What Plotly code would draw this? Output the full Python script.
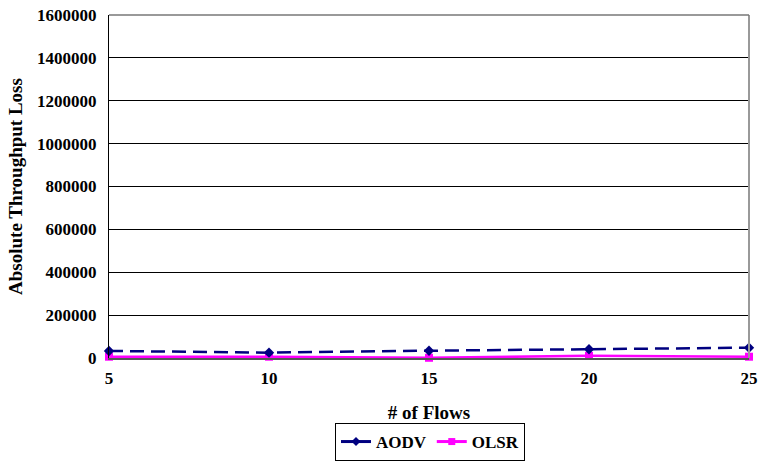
import plotly.graph_objects as go

flows = [5, 10, 15, 20, 25]
aodv = [33000, 25000, 34000, 41000, 48000]
olsr = [6000, 6000, 1000, 10000, 6000]
y_ticks = [0, 200000, 400000, 600000, 800000, 1000000, 1200000, 1400000, 1600000]

NAVY = "#000080"
MAGENTA = "#FF00FF"
FONT = "Liberation Serif"

W, H = 760, 463

fig = go.Figure()
fig.add_trace(go.Scatter(
    x=flows, y=olsr, mode="lines+markers", name="OLSR", showlegend=False, cliponaxis=False,
    line=dict(color=MAGENTA, width=2.5), marker=dict(symbol="square", size=8, color=MAGENTA),
))
fig.add_trace(go.Scatter(
    x=flows, y=aodv, mode="lines+markers", name="AODV", showlegend=False, cliponaxis=False,
    line=dict(color=NAVY, width=2.5, dash="14px,7px"), marker=dict(symbol="diamond", size=8, color=NAVY),
))
# legend entries (solid lines, as in the reference legend)
fig.add_trace(go.Scatter(
    x=[None], y=[None], mode="lines+markers", name="<b>AODV</b>",
    line=dict(color=NAVY, width=3), marker=dict(symbol="diamond", size=7, color=NAVY),
))
fig.add_trace(go.Scatter(
    x=[None], y=[None], mode="lines+markers", name="<b>OLSR</b>",
    line=dict(color=MAGENTA, width=3), marker=dict(symbol="square", size=7, color=MAGENTA),
))

fig.update_layout(
    width=W, height=H,
    margin=dict(l=109, r=11, t=15, b=105, autoexpand=False),
    paper_bgcolor="white", plot_bgcolor="white",
    font=dict(family=FONT, size=17, color="black"),
    showlegend=True,
    legend=dict(
        orientation="h", x=430 / W, xanchor="center", xref="container",
        y=2 / H, yanchor="bottom", yref="container",
        bordercolor="black", borderwidth=1,
        font=dict(family=FONT, size=17, color="black"),
        itemwidth=30, tracegroupgap=0,
    ),
    xaxis=dict(
        range=[5, 25], tickvals=flows, ticktext=[f"<b>{v}</b>" for v in flows],
        showgrid=False, zeroline=False, automargin=False,
        showline=True, linecolor="#555555", linewidth=2,
        ticks="", tickfont=dict(family=FONT, size=17, color="black"),
        ticklabeloverflow="allow", ticklabelstandoff=4,
        title=dict(text="<b># of Flows</b>", font=dict(family=FONT, size=19), standoff=19),
    ),
    yaxis=dict(
        range=[0, 1600000], tickvals=y_ticks, ticktext=[f"<b>{v}</b>" for v in y_ticks],
        showgrid=True, gridcolor="black", gridwidth=1, automargin=False,
        zeroline=False, showline=True, linecolor="black", linewidth=1,
        ticks="", tickfont=dict(family=FONT, size=17, color="black"),
        ticklabeloverflow="allow", ticklabelstandoff=8,
        title=dict(text="<b>Absolute Throughput Loss</b>", font=dict(family=FONT, size=19), standoff=9),
    ),
    shapes=[
        dict(type="line", xref="paper", yref="paper", x0=1, x1=1, y0=0, y1=1,
             line=dict(color="#999999", width=2)),
        dict(type="line", xref="paper", yref="paper", x0=0, x1=1, y0=1, y1=1,
             line=dict(color="#777777", width=1.5)),
    ],
)

# remove the browser's default 8px body margin so the figure fills the window exactly
fig.write_html(
    "out.html",
    config={"displayModeBar": False},
    post_script="document.body.style.margin='0';document.body.style.overflow='hidden';",
)
